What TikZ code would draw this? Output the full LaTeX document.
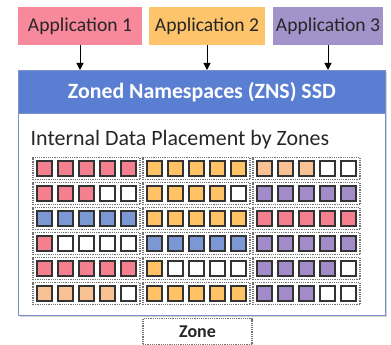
\documentclass[tikz,border=0pt]{standalone}
\usepackage{fontspec}
\setmainfont{Carlito}
\usetikzlibrary{arrows.meta,shadows}
\definecolor{appP}{HTML}{F8889B}
\definecolor{appO}{HTML}{FDC46B}
\definecolor{appV}{HTML}{A393CB}
\definecolor{hdrblue}{HTML}{5A7FD2}
\definecolor{boxedge}{HTML}{7A92CC}
\definecolor{cP}{HTML}{F47F8F}
\definecolor{cO}{HTML}{FFC366}
\definecolor{cE}{HTML}{F9C295}
\definecolor{cB}{HTML}{7B98D4}
\definecolor{cV}{HTML}{A18CC9}
\definecolor{cW}{HTML}{FFFFFF}
\definecolor{txt}{HTML}{262626}
\begin{document}
\begin{tikzpicture}[x=1pt,y=-1pt,
  appbox/.style={inner sep=0pt, minimum height=38pt, text=txt,
    font=\fontsize{19.6}{22}\selectfont},
  arr/.style={line width=1pt, -{Triangle[length=7pt,width=7pt]}},
  zonebox/.style={draw=black!55, line width=1.5pt, dash pattern=on 1.2pt off 1pt,
    minimum width=107pt, minimum height=22pt, inner sep=0pt},
  sqbox/.style={draw=black!80, line width=1.2pt, minimum size=15pt, inner sep=0pt},
]
\useasboundingbox (0,0) rectangle (391,345);
% applications
\node[appbox, fill=appP, minimum width=124pt] (a1) at (80,26) {Application 1};
\node[appbox, fill=appO, minimum width=116pt] (a2) at (207,26) {Application 2};
\node[appbox, fill=appV, minimum width=110pt] (a3) at (328,26) {Application 3};
% SSD
\node[draw=boxedge, line width=0.8pt, fill=white, minimum width=367pt, minimum height=245pt,
  anchor=north west, inner sep=0pt,
  drop shadow={shadow xshift=1.5pt, shadow yshift=-1.5pt, opacity=0.35}] (ssd) at (18,70) {};
\node[fill=hdrblue, draw=boxedge, line width=0.8pt, minimum width=367pt, minimum height=43pt,
  anchor=north west, inner sep=0pt, text=white,
  font=\bfseries\fontsize{21.8}{24}\selectfont] (hdr) at (18,70) {Zoned Namespaces (ZNS) SSD};
\node[anchor=base west, inner sep=0pt, text=txt, font=\fontsize{21.9}{24}\selectfont]
  (title) at (30.5,145) {Internal Data Placement by Zones};
% arrows
\draw[arr] (a1.south) -- (a1.south |- hdr.north);
\draw[arr] (a2.south) -- (a2.south |- hdr.north);
\draw[arr] (a3.south) -- (a3.south |- hdr.north);
% zones and blocks
\foreach \r/\row in {0/{P,P,P,P,P,O,O,O,O,O,E,E,E,W,W},
                     1/{P,P,P,W,W,O,O,O,O,W,V,V,V,V,V},
                     2/{B,B,B,B,B,O,O,O,O,O,P,P,P,P,P},
                     3/{P,W,W,W,W,B,B,B,B,B,V,V,V,V,V},
                     4/{P,P,P,P,P,O,W,W,W,W,V,V,V,V,W},
                     5/{E,E,E,E,W,O,O,O,O,O,V,V,V,W,W}} {
  \foreach \z in {0,1,2} {
    \node[zonebox] (z-\r-\z) at (86.5+110*\z, 168.5+25*\r) {};
  }
  \foreach \c [count=\i from 0] in \row {
    \pgfmathtruncatemacro{\zz}{int(\i/5)}
    \pgfmathtruncatemacro{\kk}{\i-5*\zz}
    \node[sqbox, fill=c\c] (s-\r-\i) at (44.5+110*\zz+21*\kk, 168.5+25*\r) {};
  }
}
% legend
\node[zonebox, minimum width=109pt, minimum height=26pt, line width=1.2pt, text=txt,
  font=\bfseries\fontsize{18}{20}\selectfont] (legend) at (197.5,331.5) {Zone};
\end{tikzpicture}
\end{document}
